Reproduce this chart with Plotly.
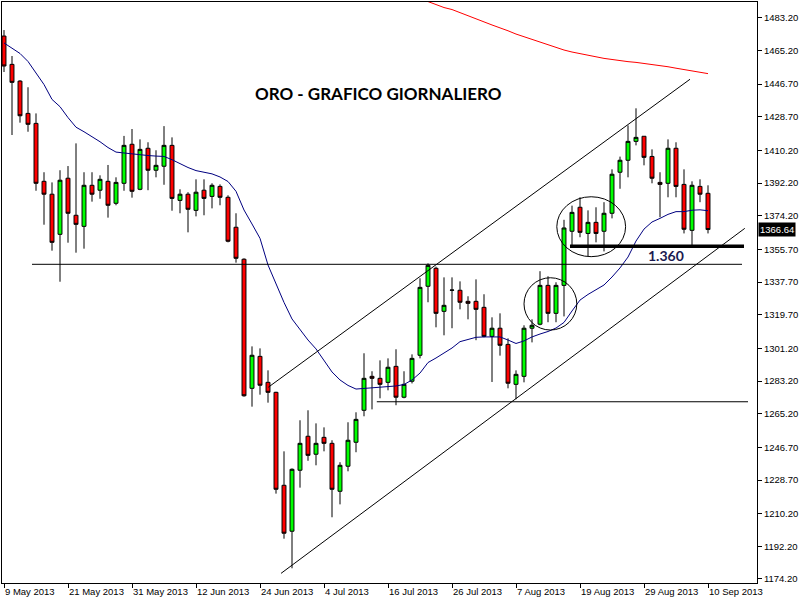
import plotly.graph_objects as go
import pandas as pd

# ---- data ----
dates = [d.strftime("%Y-%m-%d") for d in pd.bdate_range("2013-05-09", "2013-09-10")]

opens = [1473.2, 1457.6, 1448.4, 1430.6, 1425.1, 1393.2, 1386.1, 1364.0, 1394.9, 1374.5,
         1368.4, 1391.0, 1388.3, 1393.2, 1381.1, 1392.1, 1413.6, 1388.8, 1411.4, 1399.3,
         1401.5, 1413.0, 1382.7, 1386.1, 1377.2, 1388.3, 1384.9, 1390.4, 1384.4, 1367.9,
         1350.3, 1279.2, 1296.8, 1282.5, 1277.0, 1225.8, 1200.5, 1234.1, 1252.8, 1242.9,
         1252.2, 1248.9, 1222.5, 1236.3, 1249.5, 1267.1, 1285.8, 1284.7, 1282.5, 1291.3,
         1274.3, 1283.1, 1297.4, 1335.4, 1345.3, 1321.6, 1333.2, 1333.2, 1327.1, 1327.1,
         1323.8, 1307.8, 1312.3, 1303.4, 1281.4, 1285.8, 1312.3, 1314.5, 1335.9, 1320.5,
         1335.9, 1365.7, 1378.9, 1364.5, 1370.6, 1365.7, 1375.6, 1398.2, 1404.8, 1415.2,
         1418.0, 1406.9, 1392.6, 1392.1, 1411.4, 1391.5, 1366.2, 1390.4, 1386.6]
highs = [1476.5, 1462.2, 1448.9, 1445.0, 1430.6, 1398.2, 1392.6, 1399.3, 1401.6, 1414.1,
         1398.2, 1398.2, 1396.5, 1402.2, 1395.4, 1418.2, 1422.0, 1416.3, 1414.7, 1410.3,
         1423.6, 1417.4, 1388.8, 1387.2, 1394.3, 1394.3, 1392.1, 1391.5, 1385.5, 1375.6,
         1350.8, 1302.3, 1301.2, 1289.1, 1277.3, 1244.5, 1235.1, 1261.6, 1267.1, 1259.9,
         1257.7, 1250.6, 1238.5, 1260.5, 1266.0, 1298.5, 1288.6, 1294.6, 1295.7, 1300.7,
         1288.6, 1297.9, 1339.8, 1348.0, 1346.2, 1340.3, 1340.3, 1338.1, 1329.9, 1339.2,
         1331.0, 1318.3, 1320.5, 1306.7, 1289.1, 1313.9, 1317.2, 1343.7, 1340.9, 1337.6,
         1372.0, 1379.8, 1384.4, 1377.2, 1378.9, 1381.7, 1399.8, 1406.8, 1424.0, 1433.4,
         1418.0, 1410.8, 1398.2, 1416.3, 1414.7, 1399.8, 1393.2, 1394.3, 1391.0]
lows = [1453.4, 1418.7, 1425.5, 1420.5, 1388.0, 1369.3, 1355.0, 1337.9, 1359.4, 1353.9,
        1356.1, 1382.0, 1383.6, 1373.2, 1380.0, 1388.0, 1384.2, 1388.3, 1388.3, 1395.4,
        1391.3, 1377.0, 1375.6, 1365.1, 1373.9, 1374.5, 1378.3, 1380.0, 1359.6, 1348.4,
        1274.6, 1269.1, 1275.7, 1271.3, 1221.2, 1196.4, 1180.1, 1224.5, 1239.3, 1236.8,
        1244.5, 1208.2, 1215.3, 1233.5, 1244.0, 1263.8, 1267.6, 1273.7, 1278.1, 1269.9,
        1273.7, 1281.9, 1295.7, 1326.6, 1312.8, 1308.4, 1312.3, 1322.7, 1317.2, 1305.7,
        1307.3, 1282.7, 1297.2, 1279.2, 1273.2, 1282.5, 1304.5, 1313.9, 1315.6, 1315.6,
        1318.8, 1357.7, 1362.4, 1351.9, 1359.6, 1354.6, 1372.8, 1389.1, 1395.4, 1413.0,
        1402.0, 1392.1, 1373.4, 1384.4, 1384.4, 1364.5, 1358.0, 1381.7, 1364.5]
closes = [1456.7, 1447.7, 1429.3, 1424.6, 1392.1, 1386.1, 1359.6, 1393.8, 1375.6, 1369.5,
          1391.0, 1386.1, 1394.3, 1380.0, 1392.6, 1413.0, 1387.7, 1410.8, 1399.3, 1402.0,
          1413.0, 1383.8, 1386.1, 1377.8, 1387.2, 1383.8, 1391.0, 1384.4, 1360.2, 1350.8,
          1275.1, 1297.4, 1280.9, 1277.0, 1223.6, 1199.4, 1234.6, 1248.9, 1242.3, 1248.9,
          1248.9, 1223.6, 1236.8, 1250.6, 1262.1, 1284.7, 1284.7, 1281.4, 1290.8, 1274.3,
          1281.4, 1295.7, 1334.8, 1346.9, 1320.5, 1324.9, 1333.3, 1326.6, 1326.0, 1322.7,
          1307.8, 1312.3, 1302.9, 1282.0, 1286.9, 1312.3, 1313.9, 1335.9, 1320.5, 1335.9,
          1367.5, 1376.1, 1365.1, 1370.6, 1364.5, 1375.6, 1397.1, 1404.8, 1415.2, 1417.4,
          1406.4, 1394.9, 1391.5, 1411.4, 1390.4, 1366.8, 1391.0, 1386.1, 1366.64]

ma_fast = [1469.4, 1466.5, 1463.6, 1459.2, 1453.1, 1446.5, 1438.3, 1434.3, 1428.3, 1423.0,
           1420.5, 1417.8, 1415.0, 1411.8, 1409.3, 1408.8, 1408.2, 1407.9, 1407.4, 1407.1,
           1406.9, 1405.1, 1402.8, 1400.8, 1399.1, 1398.1, 1397.3, 1395.6, 1393.1, 1387.7,
           1377.4, 1369.7, 1361.8, 1347.1, 1336.4, 1326.5, 1317.4, 1311.3, 1305.8, 1300.9,
           1294.8, 1288.2, 1283.8, 1280.8, 1278.8, 1279.1, 1279.7, 1279.9, 1280.2, 1280.5,
           1281.3, 1283.8, 1287.6, 1293.4, 1295.9, 1298.7, 1301.4, 1304.9, 1306.1, 1307.3,
           1307.5, 1307.7, 1307.5, 1305.8, 1303.9, 1305.3, 1307.5, 1309.1, 1310.5, 1312.4,
           1315.5, 1321.8, 1327.8, 1330.9, 1333.6, 1336.1, 1340.5, 1345.5, 1351.5, 1360.3,
           1366.9, 1370.8, 1372.8, 1375.0, 1376.5, 1376.5, 1377.3, 1377.5, 1377.0]

ma_slow_first = 53
ma_slow = [1492.2, 1490.6, 1488.9, 1487.8, 1486.2, 1484.2, 1482.6, 1481.0, 1479.3, 1477.8,
           1476.1, 1474.3, 1472.8, 1471.3, 1469.6, 1468.3, 1466.6, 1465.5, 1464.4, 1463.5,
           1462.5, 1461.6, 1460.9, 1460.3, 1459.6, 1459.1, 1458.7, 1458.2, 1457.6, 1457.0,
           1456.3, 1455.5, 1454.7, 1454.0, 1453.4, 1452.5]

x_tick_labels = ["9 May 2013", "21 May 2013", "31 May 2013", "12 Jun 2013", "24 Jun 2013",
                 "4 Jul 2013", "16 Jul 2013", "26 Jul 2013", "7 Aug 2013", "19 Aug 2013",
                 "29 Aug 2013", "10 Sep 2013"]
y_tick_values = [1174.2, 1192.2, 1210.2, 1228.7, 1246.7, 1265.2, 1283.2, 1301.2, 1319.7,
                 1337.7, 1355.7, 1374.2, 1392.2, 1410.2, 1428.7, 1446.7, 1465.2, 1483.2]
last_price = 1366.64
support_level = 1357.4
support_label = "1.360"
title_text = "ORO - GRAFICO GIORNALIERO"

# ---- figure ----
fig = go.Figure()
fig.add_trace(go.Candlestick(
    x=dates, open=opens, high=highs, low=lows, close=closes,
    increasing=dict(fillcolor="#00FF00", line=dict(color="black", width=1)),
    decreasing=dict(fillcolor="#FF0000", line=dict(color="black", width=1)),
    whiskerwidth=0, hoverinfo="skip"))
fig.add_trace(go.Scatter(x=dates, y=ma_fast, mode="lines",
                         line=dict(color="#000080", width=1), hoverinfo="skip"))
fig.add_trace(go.Scatter(x=dates[ma_slow_first:ma_slow_first + len(ma_slow)], y=ma_slow,
                         mode="lines", line=dict(color="#FF0000", width=1), hoverinfo="skip"))

axis_font = dict(family="Liberation Sans", size=9.5, color="black")

fig.update_layout(
    width=800, height=600,
    margin=dict(l=2, r=43, t=2, b=17, autoexpand=False),
    paper_bgcolor="white", plot_bgcolor="white",
    showlegend=False, boxgap=0.3,
    xaxis=dict(type="category", range=[-0.25, 94.125], rangeslider=dict(visible=False),
               tickvals=dates[::8], ticktext=x_tick_labels, ticks="outside", ticklen=4,
               tickcolor="black", showgrid=False, zeroline=False, showline=True,
               mirror=True, linecolor="black", linewidth=1,
               ticklabelposition="outside right", tickfont=axis_font),
    yaxis=dict(side="right", range=[1171.99, 1491.95], tickvals=y_tick_values,
               ticktext=[f"{v:.2f}" for v in y_tick_values], ticks="outside", ticklen=4,
               tickcolor="black", showgrid=False, zeroline=False, showline=True,
               mirror=True, linecolor="black", linewidth=1, tickfont=axis_font),
)

line_black = dict(color="black", width=1)
shapes = [
    dict(type="line", xref="x", yref="y", x0=3.5, x1=92.25, y0=1347.5, y1=1347.5, line=line_black),
    dict(type="line", xref="x", yref="y", x0=46.6, x1=93.0, y0=1271.8, y1=1271.8, line=line_black),
    dict(type="line", xref="x", yref="y", x0=33.04, x1=85.75, y0=1279.8, y1=1449.4, line=line_black),
    dict(type="line", xref="x", yref="y", x0=34.63, x1=92.6, y0=1177.3, y1=1367.3, line=line_black),
    dict(type="line", xref="x", yref="y", x0=70.75, x1=92.5, y0=support_level, y1=support_level,
         line=dict(color="black", width=3.5)),
    dict(type="circle", xref="x", yref="y", x0=65.0, x1=71.6, y0=1311.3, y1=1340.1, line=line_black),
    dict(type="circle", xref="x", yref="y", x0=69.1, x1=77.7, y0=1351.7, y1=1384.7, line=line_black),
]
fig.update_layout(shapes=shapes)

fig.add_annotation(text=f"<b>{title_text}</b>", xref="paper", yref="paper", x=0.4993, y=0.864,
                   showarrow=False, font=dict(family="Lato", size=17, color="black"))
fig.add_annotation(text=f"<b>{support_label}</b>", xref="x", yref="y", x=82.75, y=1352.35,
                   showarrow=False, font=dict(family="Lato", size=14, color="#1a1a50"))
fig.add_annotation(text=f"{last_price:.2f}", xref="paper", yref="y", x=1.0, y=last_price,
                   xanchor="left", yanchor="middle", showarrow=False, bgcolor="black",
                   borderpad=1, xshift=1,
                   font=dict(family="Liberation Sans", size=9.5, color="white"))

fig.write_html("out.html", config={"displayModeBar": False},
               post_script="document.body.style.margin='0';document.body.style.padding='0';")
